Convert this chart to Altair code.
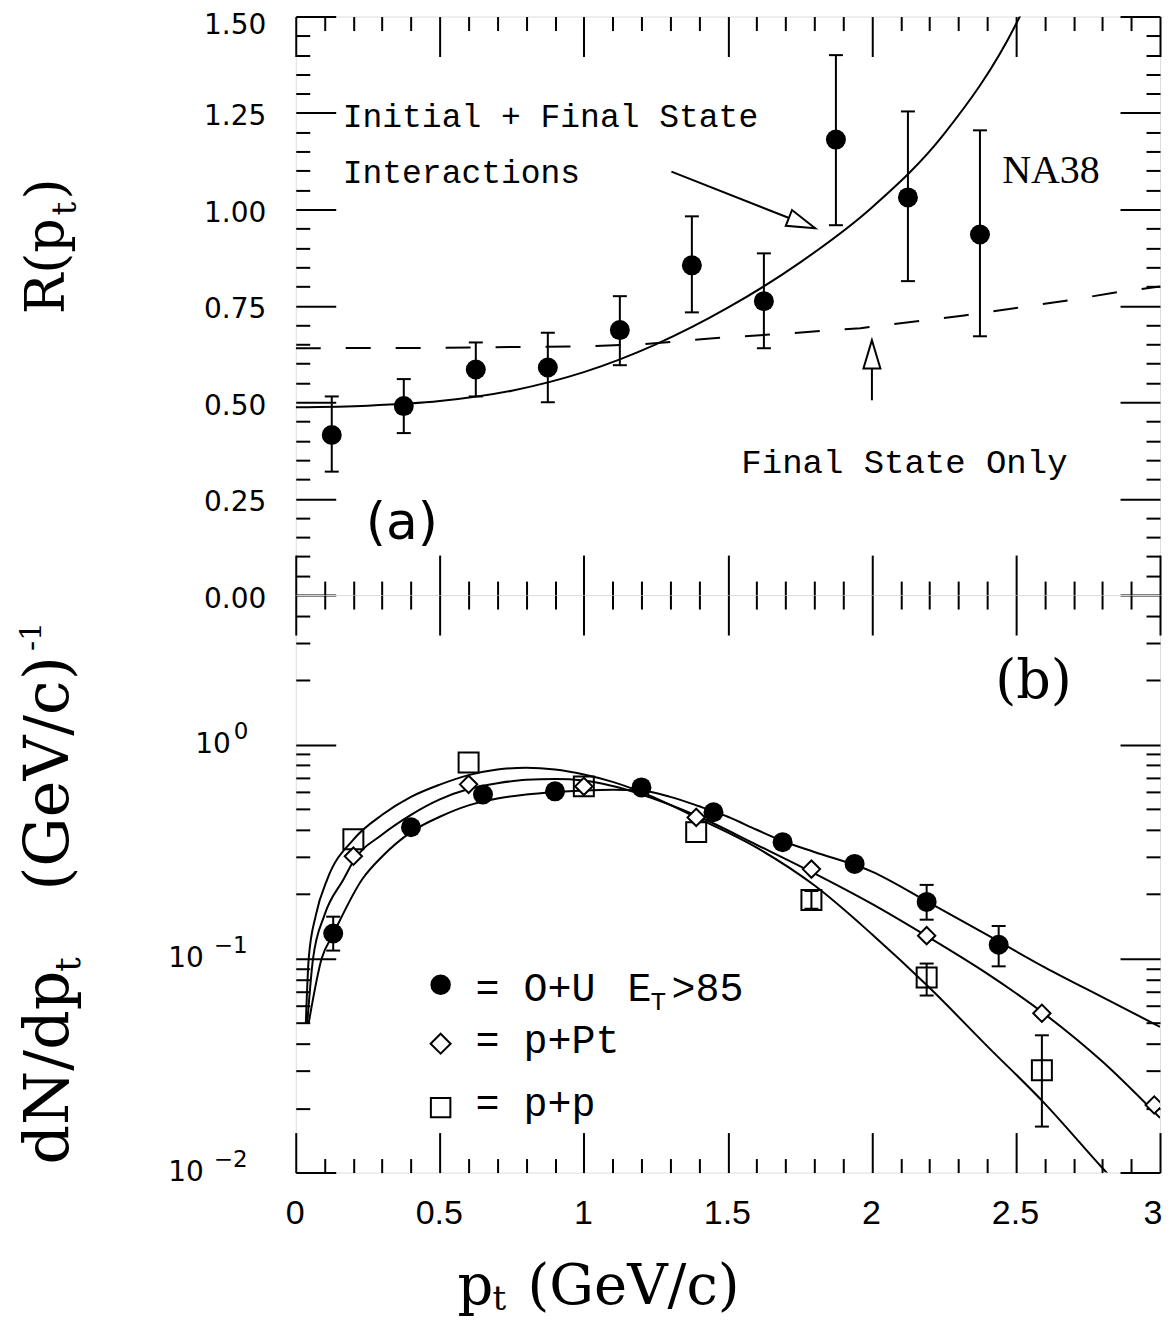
import altair as alt
import pandas as pd

# ---------------- panel (a): R(pt) ----------------
a_pt = [0.125, 0.375, 0.625, 0.875, 1.125, 1.375, 1.625, 1.875, 2.125, 2.375]
a_R = [0.415, 0.49, 0.585, 0.59, 0.687, 0.855, 0.762, 1.181, 1.031, 0.935]
a_lo = [0.32, 0.42, 0.515, 0.50, 0.596, 0.733, 0.64, 0.959, 0.814, 0.671]
a_hi = [0.515, 0.56, 0.655, 0.68, 0.775, 0.982, 0.886, 1.40, 1.254, 1.205]

# Initial + Final State curve (solid)
if_pt = [0.0, 0.25, 0.5, 0.75, 1.0, 1.25, 1.5, 1.75, 2.0, 2.25, 2.5, 2.52]
if_R = [0.487, 0.491, 0.503, 0.530, 0.578, 0.650, 0.745, 0.862, 1.005, 1.195, 1.48, 1.51]
# Final State Only curve (dashed)
fs_pt = [0.0, 0.5, 1.0, 1.2, 1.45, 1.7, 1.96, 2.32, 2.68, 2.85, 3.0]
fs_R = [0.64, 0.641, 0.645, 0.65, 0.666, 0.678, 0.692, 0.725, 0.764, 0.785, 0.80]

# arrows (tail -> tip, in data units)
arr_x0 = [1.304, 2.0]
arr_y0 = [1.098, 0.505]
arr_x1 = [1.803, 2.0]
arr_y1 = [0.951, 0.661]
arr_angle = [111.6, 0]

# ---------------- panel (b): dN/dpt ----------------
ou_pt = [0.13, 0.40, 0.65, 0.90, 1.20, 1.45, 1.69, 1.94, 2.19, 2.44]
ou_v = [0.131, 0.411, 0.585, 0.605, 0.631, 0.483, 0.35, 0.277, 0.184, 0.116]
ou_err_pt = [0.13, 2.19, 2.44]
ou_err_lo = [0.109, 0.152, 0.092]
ou_err_hi = [0.157, 0.221, 0.142]

ppt_pt = [0.20, 0.60, 1.00, 1.39, 1.79, 2.19, 2.59, 2.98]
ppt_v = [0.301, 0.652, 0.638, 0.457, 0.262, 0.128, 0.0555, 0.0207]

pp_pt = [0.20, 0.60, 1.00, 1.39, 1.79, 2.19, 2.59]
pp_v = [0.361, 0.825, 0.638, 0.39, 0.188, 0.0815, 0.0301]
pp_err_pt = [1.79, 2.19, 2.59]
pp_err_lo = [0.171, 0.0672, 0.0164]
pp_err_hi = [0.207, 0.0948, 0.0438]

# fitted curves
cA_pt = [0.045, 0.09, 0.13, 0.232, 0.3, 0.4, 0.5, 0.6, 0.7, 0.8, 0.9, 1.0, 1.1, 1.2, 1.3, 1.4, 1.5, 1.6, 1.7, 1.8, 2.0, 2.2, 2.4, 2.6, 2.8, 3.0]
cA_v = [0.05, 0.1, 0.13, 0.236, 0.3, 0.39, 0.46, 0.52, 0.56, 0.585, 0.6, 0.61, 0.615, 0.61, 0.57, 0.515, 0.46, 0.40, 0.35, 0.315, 0.255, 0.182, 0.129, 0.091, 0.066, 0.048]
cB_pt = [0.04, 0.06, 0.1, 0.167, 0.2, 0.3, 0.4, 0.5, 0.6, 0.7, 0.8, 0.9, 1.0, 1.1, 1.2, 1.4, 1.6, 1.8, 2.0, 2.2, 2.4, 2.6, 2.8, 3.0]
cB_v = [0.05, 0.1, 0.16, 0.236, 0.285, 0.38, 0.47, 0.555, 0.62, 0.66, 0.685, 0.69, 0.68, 0.64, 0.585, 0.46, 0.34, 0.25, 0.18, 0.125, 0.085, 0.055, 0.033, 0.018]
cC_pt = [0.035, 0.045, 0.07, 0.11, 0.2, 0.3, 0.4, 0.5, 0.6, 0.7, 0.8, 0.9, 1.0, 1.1, 1.2, 1.4, 1.6, 1.8, 2.0, 2.2, 2.4, 2.6, 2.8, 2.9]
cC_v = [0.05, 0.1, 0.16, 0.236, 0.36, 0.47, 0.57, 0.65, 0.72, 0.765, 0.78, 0.765, 0.725, 0.67, 0.60, 0.45, 0.33, 0.22, 0.13, 0.073, 0.039, 0.021, 0.0105, 0.0075]

# ---------------- ticks / labels ----------------
x_major = [0, 0.5, 1, 1.5, 2, 2.5, 3]
x_minor = [0.1, 0.2, 0.3, 0.4, 0.6, 0.7, 0.8, 0.9, 1.1, 1.2, 1.3, 1.4, 1.6, 1.7, 1.8, 1.9,
           2.1, 2.2, 2.3, 2.4, 2.6, 2.7, 2.8, 2.9]
y1_major = [0, 0.25, 0.5, 0.75, 1.0, 1.25, 1.5]
y1_minor = [0.05, 0.1, 0.15, 0.2, 0.3, 0.35, 0.4, 0.45, 0.55, 0.6, 0.65, 0.7, 0.8, 0.85, 0.9, 0.95,
            1.05, 1.1, 1.15, 1.2, 1.3, 1.35, 1.4, 1.45]
y2_major = [0.01, 0.1, 1]
y2_minor = [0.02, 0.03, 0.04, 0.05, 0.06, 0.07, 0.08, 0.09, 0.2, 0.3, 0.4, 0.5, 0.6, 0.7, 0.8, 0.9, 2, 3, 4]
log_lab_v1 = [1]
log_lab_exp1 = ["0"]
log_lab_v2 = [0.1, 0.01]
log_lab_exp2 = ["\u22121", "\u22122"]
log_lab_base = "10"

txt_a = ["Initial + Final State", "Interactions", "Final State Only", "NA38", "(a)"]
txt_b = ["(b)"]
legend_txt = ["= O+U", "E", "T", ">85", "= p+Pt", "= p+p"]
title_a = ["R(p", "t", ")"]
title_b = ["dN/dp", "t", "(GeV/c)", "-1"]
title_x = ["p", "t", "(GeV/c)"]

W, H1, H2 = 865, 579, 578
xs = alt.Scale(domain=[0, 3], nice=False, zero=False)
ys1 = alt.Scale(domain=[0, 1.5], nice=False, zero=False)
ys2 = alt.Scale(type="log", domain=[0.01, 5], nice=False)


def X(f, axis=None):
    return alt.X(f, type="quantitative", scale=xs, axis=axis)


def Y(f, sc, axis=None):
    return alt.Y(f, type="quantitative", scale=sc, axis=axis)


def tick_ax(orient, values, size, offset):
    return alt.Axis(orient=orient, values=values, tickSize=size, tickWidth=2, tickColor="black",
                    labels=False, domain=False, grid=False, title=None, offset=offset, ticks=True)


def axis_layers(df, xf, yf, sc, H, ymaj, ymin, ylabel_axis=None, xlabel_axis=None):
    layers = []
    yaxes = [tick_ax("right", ymaj, 40, -W), tick_ax("right", ymin, 14, -W),
             tick_ax("left", ymaj, 40, -W), tick_ax("left", ymin, 14, -W)]
    if ylabel_axis is not None:
        yaxes.append(ylabel_axis)
    for ax in yaxes:
        layers.append(alt.Chart(df).mark_point(opacity=0).encode(x=X(xf), y=Y(yf, sc, ax)))
    xaxes = [tick_ax("top", x_major, 40, -H), tick_ax("top", x_minor, 14, -H),
             tick_ax("bottom", x_major, 40, -H), tick_ax("bottom", x_minor, 14, -H)]
    if xlabel_axis is not None:
        xaxes.append(xlabel_axis)
    for ax in xaxes:
        layers.append(alt.Chart(df).mark_point(opacity=0).encode(x=X(xf, ax), y=Y(yf, sc)))
    return layers


def text(t, x, y, size, font, align="left", baseline="alphabetic", angle=0):
    return alt.Chart(pd.DataFrame({"t": [t]})).mark_text(
        align=align, baseline=baseline, font=font, fontSize=size, angle=angle, color="black"
    ).encode(x=alt.value(x), y=alt.value(y), text="t:N")


# ================= panel (a) =================
df_a = pd.DataFrame({"pt": a_pt, "R": a_R, "lo": a_lo, "hi": a_hi})
df_if = pd.DataFrame({"pt": if_pt, "R": if_R})
df_fs = pd.DataFrame({"pt": fs_pt, "R": fs_R})
df_arr = pd.DataFrame({"x0": arr_x0, "y0": arr_y0, "x1": arr_x1, "y1": arr_y1, "ang": arr_angle})

a_layers = []
a_layers.append(alt.Chart(df_fs).mark_line(color="black", strokeWidth=2, strokeDash=[25, 25], clip=True)
                .encode(x=X("pt"), y=Y("R", ys1)))
a_layers.append(alt.Chart(df_if).mark_line(color="black", strokeWidth=2, interpolate="monotone", clip=True)
                .encode(x=X("pt"), y=Y("R", ys1)))
a_layers.append(alt.Chart(df_a).mark_rule(color="black", strokeWidth=2)
                .encode(x=X("pt"), y=Y("lo", ys1), y2="hi"))
for f in ["lo", "hi"]:
    a_layers.append(alt.Chart(df_a).mark_tick(orient="horizontal", color="black", size=14, thickness=2, opacity=1)
                    .encode(x=X("pt"), y=Y(f, ys1)))
a_layers.append(alt.Chart(df_a).mark_circle(size=400, color="black", opacity=1)
                .encode(x=X("pt"), y=Y("R", ys1)))
a_layers.append(alt.Chart(df_arr).mark_rule(color="black", strokeWidth=2)
                .encode(x=X("x0"), y=Y("y0", ys1), x2="x1", y2="y1"))
a_layers.append(alt.Chart(df_arr).mark_point(shape="M0,0L-0.6,2L0.6,2Z", size=800, filled=True, fill="white",
                                             stroke="black", strokeWidth=2, opacity=1)
                .encode(x=X("x1"), y=Y("y1", ys1), angle=alt.Angle("ang:Q", scale=None)))
a_layers.append(text(txt_a[0], 47, 111, 33, "Liberation Mono"))
a_layers.append(text(txt_a[1], 47, 167, 33, "Liberation Mono"))
a_layers.append(text(txt_a[2], 446, 457, 34, "Liberation Mono"))
a_layers.append(text(txt_a[3], 707, 167, 40, "Liberation Serif"))
a_layers.append(text(txt_a[4], 70, 507, 52, "DejaVu Sans", baseline="middle"))
# y title R(p_t)
a_layers.append(text(title_a[0], -232, 298, 54, "DejaVu Serif", angle=270))
a_layers.append(text(title_a[1], -220, 199, 34, "DejaVu Serif", angle=270))
a_layers.append(text(title_a[2], -232, 183, 54, "DejaVu Serif", angle=270))

ylab_a = alt.Axis(orient="left", values=y1_major, format=".2f", ticks=False, tickSize=0, domain=False,
                  grid=False, title=None, labelPadding=30, labelFont="DejaVu Sans", labelFontSize=28,
                  labelColor="black", labelFlush=False, labelOverlap=False,
                  labelOffset={"condition": {"test": "datum.value > 1.4", "value": 9}, "value": 4})
a_layers += axis_layers(df_a, "pt", "R", ys1, H1, y1_major, y1_minor, ylab_a)
a_layers.append(alt.Chart(df_a).mark_rule(strokeOpacity=0).encode(
    x=alt.value(-287), x2=alt.value(-287), y=alt.value(300), y2=alt.value(301)))

panel_a = alt.layer(*a_layers).resolve_axis(x="independent", y="independent").properties(width=W, height=H1)

# ================= panel (b) =================
df_ou = pd.DataFrame({"pt": ou_pt, "v": ou_v})
df_oue = pd.DataFrame({"pt": ou_err_pt, "lo": ou_err_lo, "hi": ou_err_hi})
df_ppt = pd.DataFrame({"pt": ppt_pt, "v": ppt_v})
df_pp = pd.DataFrame({"pt": pp_pt, "v": pp_v})
df_ppe = pd.DataFrame({"pt": pp_err_pt, "lo": pp_err_lo, "hi": pp_err_hi})

b_layers = []
for cx, cy in [(cA_pt, cA_v), (cB_pt, cB_v), (cC_pt, cC_v)]:
    b_layers.append(alt.Chart(pd.DataFrame({"pt": cx, "v": cy}))
                    .mark_line(color="black", strokeWidth=2, interpolate="monotone", clip=True)
                    .encode(x=X("pt"), y=Y("v", ys2)))
for dfe in [df_oue, df_ppe]:
    b_layers.append(alt.Chart(dfe).mark_rule(color="black", strokeWidth=2)
                    .encode(x=X("pt"), y=Y("lo", ys2), y2="hi"))
    for f in ["lo", "hi"]:
        b_layers.append(alt.Chart(dfe).mark_tick(orient="horizontal", color="black", size=14, thickness=2, opacity=1)
                        .encode(x=X("pt"), y=Y(f, ys2)))
b_layers.append(alt.Chart(df_pp).mark_point(shape="square", size=400, filled=False, color="black",
                                            strokeWidth=2, opacity=1, clip=True)
                .encode(x=X("pt"), y=Y("v", ys2)))
b_layers.append(alt.Chart(df_ppt).mark_point(shape="diamond", size=300, filled=True, fill="white",
                                             stroke="black", strokeWidth=2, opacity=1, clip=True)
                .encode(x=X("pt"), y=Y("v", ys2)))
b_layers.append(alt.Chart(df_ou).mark_circle(size=400, color="black", opacity=1)
                .encode(x=X("pt"), y=Y("v", ys2)))

# legend
dummy = pd.DataFrame({"k": [0]})
b_layers.append(alt.Chart(dummy).mark_circle(size=420, color="black", opacity=1)
                .encode(x=alt.value(145), y=alt.value(390)))
b_layers.append(alt.Chart(dummy).mark_point(shape="diamond", size=400, filled=False, color="black",
                                            strokeWidth=2, opacity=1)
                .encode(x=alt.value(145), y=alt.value(449)))
b_layers.append(alt.Chart(dummy).mark_point(shape="square", size=380, filled=False, color="black",
                                            strokeWidth=2, opacity=1)
                .encode(x=alt.value(145), y=alt.value(513)))
b_layers.append(text(legend_txt[0], 180, 406, 40, "Liberation Mono"))
b_layers.append(text(legend_txt[1], 332, 406, 40, "Liberation Mono"))
b_layers.append(text(legend_txt[2], 355, 415, 26, "Liberation Mono"))
b_layers.append(text(legend_txt[3], 376, 406, 40, "Liberation Mono"))
b_layers.append(text(legend_txt[4], 180, 458, 40, "Liberation Mono"))
b_layers.append(text(legend_txt[5], 180, 521, 40, "Liberation Mono"))
b_layers.append(text(txt_b[0], 700, 87, 54, "DejaVu Serif", baseline="middle"))

# log-axis labels 10^n (scale-positioned)
for vals, exps, xb, xe in [(log_lab_v1, log_lab_exp1, -65, -62), (log_lab_v2, log_lab_exp2, -92, -82)]:
    dfl = pd.DataFrame({"v": vals, "b": [log_lab_base] * len(vals), "e": exps})
    b_layers.append(alt.Chart(dfl).mark_text(align="right", baseline="middle", font="DejaVu Sans",
                                             fontSize=28, color="black")
                    .encode(x=alt.value(xb), y=Y("v", ys2), text="b:N"))
    b_layers.append(alt.Chart(dfl).mark_text(align="left", baseline="middle", font="DejaVu Sans",
                                             fontSize=23, color="black", dy=-13)
                    .encode(x=alt.value(xe), y=Y("v", ys2), text="e:N"))

# y title dN/dp_t (GeV/c)^-1
b_layers.append(text(title_b[0], -228, 570, 62, "DejaVu Serif", angle=270))
b_layers.append(text(title_b[1], -216, 377, 36, "DejaVu Serif", angle=270))
b_layers.append(text(title_b[2], -228, 296, 62, "DejaVu Serif", angle=270))
b_layers.append(text(title_b[3], -255, 56, 30, "DejaVu Serif", angle=270))
# x title p_t (GeV/c)
b_layers.append(text(title_x[0], 162, 710, 56, "DejaVu Serif"))
b_layers.append(text(title_x[1], 197, 716, 34, "DejaVu Serif"))
b_layers.append(text(title_x[2], 232, 710, 56, "DejaVu Serif"))

xlab_b = alt.Axis(orient="bottom", values=x_major, format="~g", ticks=False, tickSize=0, domain=False,
                  grid=False, title=None, labelPadding=24, labelFont="Liberation Sans", labelFontSize=34,
                  labelColor="black", labelFlush=False, labelOverlap=False,
                  labelAlign={"condition": {"test": "datum.value > 2.9", "value": "right"}, "value": "center"},
                  labelOffset={"condition": {"test": "datum.value > 2.9", "value": 2}, "value": -1})
b_layers += axis_layers(df_ou, "pt", "v", ys2, H2, y2_major, y2_minor, None, xlab_b)
b_layers.append(alt.Chart(df_ou).mark_rule(strokeOpacity=0).encode(
    x=alt.value(-287), x2=alt.value(-287), y=alt.value(300), y2=alt.value(301)))

panel_b = alt.layer(*b_layers).resolve_axis(x="independent", y="independent").properties(width=W, height=H2)

chart = alt.vconcat(panel_a, panel_b, spacing=0, bounds="flush").properties(
    padding={"left": 0, "top": 2, "right": 0, "bottom": 0}
).configure_view(stroke="black", strokeWidth=2.5).configure(background="white")

chart.save("out.html", embed_options={"renderer": "svg", "actions": False})
